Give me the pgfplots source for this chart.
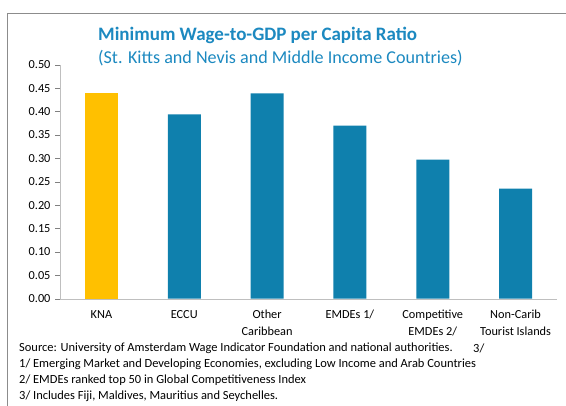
\documentclass[border=0pt]{standalone}
\usepackage{fontspec}
\setmainfont{Carlito}
\usepackage{pgfplots}
\pgfplotsset{compat=1.18}

\definecolor{barblue}{RGB}{15,128,173}
\definecolor{baryellow}{RGB}{255,192,0}
\definecolor{titleblue}{RGB}{28,137,192}
\definecolor{axisgray}{RGB}{191,191,191}
\definecolor{framegray}{RGB}{140,140,140}

\begin{document}
\begin{tikzpicture}
\useasboundingbox (0bp,0bp) rectangle (566bp,-406bp);
% outer chart frame (right and bottom edges fall outside the picture)
\draw[framegray, line width=1bp] (7bp,-420bp) -- (7bp,-13bp) -- (580bp,-13bp);

% titles
\node[anchor=west, text=titleblue, font=\fontsize{19bp}{22bp}\selectfont\bfseries, inner sep=0pt] at (98bp,-35bp) {Minimum Wage-to-GDP per Capita Ratio};
\node[anchor=west, text=titleblue, font=\fontsize{18.1bp}{22bp}\selectfont, inner sep=0pt] at (98bp,-58bp) {(St. Kitts and Nevis and Middle Income Countries)};

\begin{axis}[
  at={(60bp,-298.7bp)}, anchor=south west,
  scale only axis, width=497bp, height=234bp,
  ybar, bar width=33bp,
  xmin=-0.5, xmax=5.5, ymin=0, ymax=0.5,
  axis x line*=bottom, axis y line*=left,
  axis line style={draw=axisgray, -},
  tick style={draw=gray, thin},
  tick align=outside, major tick length=5bp,
  ytick={0,0.05,0.1,0.15,0.2,0.25,0.3,0.35,0.4,0.45,0.5},
  /pgf/number format/fixed, /pgf/number format/fixed zerofill,
  /pgf/number format/precision=2, /pgf/number format/assume math mode=true,
  yticklabel style={font=\fontsize{12.3bp}{14bp}\selectfont, xshift=-1bp},
  xtick={0,1,2,3,4,5},
  xticklabels={KNA, ECCU, {Other\\Caribbean}, {EMDEs 1/}, {Competitive\\EMDEs 2/}, {Non-Carib\\Tourist Islands}},
  xticklabel style={font=\fontsize{12.3bp}{17bp}\selectfont, align=center, anchor=north, yshift=-3bp},
  x tick style={draw=none},
  extra x ticks={-0.5,0.5,1.5,2.5,3.5,4.5,5.5},
  extra x tick labels={},
  extra x tick style={tick style={draw=gray, thin}},
  clip=false,
]
\addplot[fill=baryellow, draw=none, bar shift=0pt] coordinates {(0,0.439)};
\addplot[fill=barblue, draw=none, bar shift=0pt] coordinates {(1,0.394) (2,0.439) (3,0.370) (4,0.297) (5,0.235)};
\end{axis}

% footnotes
\begin{scope}[every node/.style={anchor=west, inner sep=0pt, font=\fontsize{12.45bp}{14bp}\selectfont}]
\node at (19bp,-348bp) {Source: University of Amsterdam Wage Indicator Foundation and national authorities.};
\node at (473bp,-348bp) {3/};
\node at (19bp,-364bp) {1/ Emerging Market and Developing Economies, excluding Low Income and Arab Countries};
\node at (19bp,-380bp) {2/ EMDEs ranked top 50 in Global Competitiveness Index};
\node at (19bp,-396bp) {3/ Includes Fiji, Maldives, Mauritius and Seychelles.};
\end{scope}
\end{tikzpicture}
\end{document}
